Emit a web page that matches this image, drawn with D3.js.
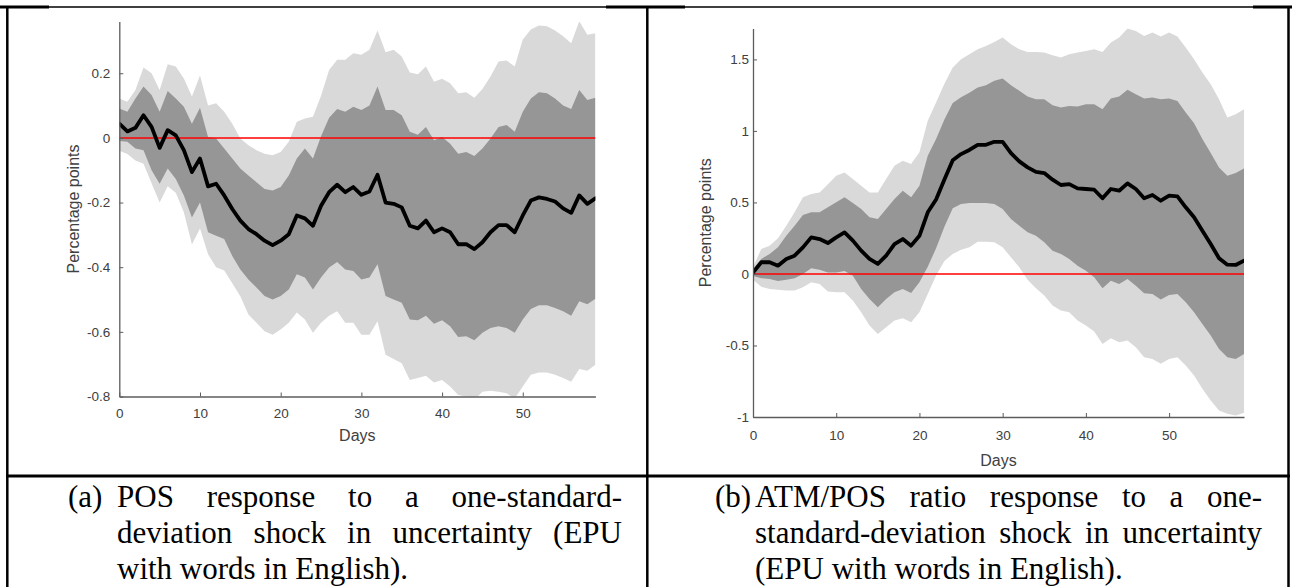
<!DOCTYPE html>
<html>
<head>
<meta charset="utf-8">
<script src="https://cdn.jsdelivr.net/npm/d3@7"></script>
<style>
  html, body { margin: 0; padding: 0; background: #fff; }
  svg { display: block; }
</style>
</head>
<body>
<svg id="chart" width="1292" height="587"></svg>
<script>
// ---------------- DATA ----------------
const days = [0,1,2,3,4,5,6,7,8,9,10,11,12,13,14,15,16,17,18,19,20,21,22,23,24,25,26,27,28,29,
  30,31,32,33,34,35,36,37,38,39,40,41,42,43,44,45,46,47,48,49,50,51,52,53,54,55,56,57,58,59];
const xTicks = [0, 10, 20, 30, 40, 50];

// Panel (a): POS response
const posYTicks = [-0.8, -0.6, -0.4, -0.2, 0, 0.2];
const posMedian = [0.044,0.02,0.031,0.07,0.034,-0.031,0.024,0.008,-0.038,-0.106,
  -0.064,-0.15,-0.142,-0.178,-0.22,-0.256,-0.282,-0.298,-0.318,-0.332,
  -0.318,-0.298,-0.24,-0.249,-0.272,-0.21,-0.168,-0.145,-0.168,-0.152,
  -0.176,-0.166,-0.114,-0.2,-0.204,-0.215,-0.272,-0.28,-0.256,-0.292,
  -0.28,-0.292,-0.329,-0.329,-0.344,-0.323,-0.292,-0.27,-0.27,-0.292,
  -0.24,-0.194,-0.184,-0.189,-0.197,-0.218,-0.232,-0.178,-0.204,-0.187];
const posInnerUpper = [0.091,0.081,0.122,0.159,0.133,0.081,0.145,0.122,0.096,0.044,
  0.093,0.003,-0.002,-0.033,-0.064,-0.095,-0.116,-0.137,-0.158,-0.163,
  -0.152,-0.116,-0.064,-0.033,-0.064,0.005,0.062,0.089,0.081,0.096,
  0.086,0.1,0.159,0.086,0.086,0.07,0.019,0.01,0.034,-0.007,
  0.003,-0.018,-0.049,-0.044,-0.056,-0.033,-0.002,0.034,0.04,0.019,
  0.081,0.122,0.141,0.138,0.122,0.1,0.089,0.148,0.117,0.124];
const posInnerLower = [-0.01,-0.012,-0.033,-0.038,-0.1,-0.142,-0.095,-0.127,-0.178,-0.246,
  -0.2,-0.292,-0.303,-0.313,-0.365,-0.407,-0.438,-0.463,-0.489,-0.5,
  -0.489,-0.469,-0.422,-0.432,-0.469,-0.432,-0.401,-0.384,-0.407,-0.412,
  -0.438,-0.432,-0.391,-0.489,-0.5,-0.51,-0.562,-0.564,-0.55,-0.575,
  -0.564,-0.583,-0.616,-0.614,-0.626,-0.603,-0.588,-0.583,-0.588,-0.603,
  -0.562,-0.529,-0.518,-0.518,-0.526,-0.536,-0.55,-0.505,-0.515,-0.498];
const posOuterUpper = [0.122,0.112,0.148,0.218,0.2,0.148,0.228,0.221,0.184,0.128,
  0.193,0.1,0.107,0.081,0.044,-0.002,-0.023,-0.038,-0.049,-0.054,
  -0.044,-0.012,0.05,0.06,0.065,0.13,0.21,0.242,0.242,0.262,
  0.257,0.273,0.332,0.265,0.273,0.252,0.202,0.197,0.221,0.174,
  0.183,0.169,0.138,0.141,0.124,0.151,0.19,0.236,0.239,0.221,
  0.304,0.335,0.348,0.345,0.332,0.314,0.293,0.361,0.319,0.324];
const posOuterLower = [-0.04,-0.05,-0.07,-0.08,-0.14,-0.2,-0.15,-0.17,-0.23,-0.33,
  -0.28,-0.36,-0.4,-0.41,-0.45,-0.49,-0.546,-0.572,-0.598,-0.609,
  -0.593,-0.572,-0.54,-0.562,-0.603,-0.572,-0.55,-0.536,-0.572,-0.572,
  -0.609,-0.609,-0.567,-0.671,-0.684,-0.697,-0.749,-0.743,-0.736,-0.757,
  -0.749,-0.769,-0.795,-0.8,-0.811,-0.785,-0.782,-0.785,-0.79,-0.806,
  -0.769,-0.733,-0.726,-0.726,-0.733,-0.743,-0.754,-0.715,-0.72,-0.702];

// Panel (b): ATM/POS ratio response
const ratioYTicks = [-1, -0.5, 0, 0.5, 1, 1.5];
const ratioMedian = [0.01,0.082,0.082,0.058,0.105,0.128,0.186,0.256,0.244,0.216,
  0.256,0.291,0.233,0.163,0.105,0.07,0.128,0.209,0.244,0.198,
  0.267,0.431,0.52,0.66,0.795,0.838,0.867,0.903,0.903,0.924,
  0.924,0.845,0.787,0.745,0.714,0.705,0.659,0.622,0.628,0.598,
  0.594,0.589,0.529,0.594,0.582,0.633,0.594,0.529,0.552,0.512,
  0.547,0.543,0.466,0.396,0.302,0.209,0.11,0.065,0.063,0.093];
const ratioInnerUpper = [0.035,0.105,0.14,0.186,0.267,0.337,0.412,0.431,0.431,0.466,
  0.501,0.536,0.496,0.454,0.396,0.384,0.454,0.524,0.582,0.536,
  0.617,0.826,0.943,1.08,1.195,1.236,1.266,1.304,1.32,1.35,
  1.366,1.32,1.28,1.241,1.222,1.222,1.18,1.164,1.175,1.17,
  1.187,1.187,1.152,1.227,1.241,1.287,1.257,1.227,1.234,1.222,
  1.227,1.21,1.129,1.054,0.943,0.845,0.745,0.686,0.705,0.738];
const ratioInnerLower = [-0.015,-0.03,-0.035,-0.05,-0.04,-0.03,0.0,0.04,0.03,0.01,
  0.01,0.02,-0.012,-0.105,-0.175,-0.233,-0.175,-0.128,-0.105,-0.133,
  -0.058,0.05,0.18,0.33,0.46,0.489,0.496,0.496,0.496,0.489,
  0.454,0.384,0.337,0.291,0.267,0.221,0.163,0.14,0.105,0.058,
  0.023,-0.023,-0.1,-0.047,-0.07,-0.035,-0.082,-0.135,-0.14,-0.179,
  -0.147,-0.14,-0.198,-0.268,-0.349,-0.431,-0.524,-0.582,-0.594,-0.559];
const ratioOuterUpper = [0.047,0.175,0.198,0.249,0.337,0.431,0.536,0.559,0.57,0.628,
  0.686,0.71,0.663,0.617,0.57,0.57,0.663,0.756,0.791,0.768,
  0.85,1.071,1.199,1.33,1.443,1.501,1.536,1.571,1.594,1.622,
  1.653,1.606,1.571,1.552,1.552,1.548,1.529,1.513,1.536,1.548,
  1.559,1.571,1.552,1.618,1.653,1.716,1.699,1.664,1.688,1.66,
  1.688,1.66,1.583,1.501,1.409,1.327,1.222,1.094,1.117,1.152];
const ratioOuterLower = [-0.04,-0.09,-0.105,-0.11,-0.116,-0.116,-0.093,-0.058,-0.07,-0.123,
  -0.128,-0.128,-0.186,-0.268,-0.361,-0.419,-0.372,-0.326,-0.31,-0.337,
  -0.268,-0.14,-0.01,0.09,0.14,0.17,0.186,0.226,0.226,0.221,
  0.186,0.116,0.047,-0.04,-0.1,-0.15,-0.221,-0.256,-0.268,-0.326,
  -0.361,-0.403,-0.489,-0.449,-0.477,-0.466,-0.512,-0.582,-0.594,-0.628,
  -0.594,-0.582,-0.64,-0.71,-0.803,-0.885,-0.955,-0.978,-0.99,-0.971];

const xLabel = "Days";
const yLabel = "Percentage points";
const captionA = {
  tag: "(a)",
  justified: [["POS", "response", "to", "a", "one-standard-"],
              ["deviation", "shock", "in", "uncertainty", "(EPU"]],
  last: "with words in English)."
};
const captionB = {
  tag: "(b)",
  justified: [["ATM/POS", "ratio", "response", "to", "a", "one-"],
              ["standard-deviation", "shock", "in", "uncertainty"]],
  last: "(EPU with words in English)."
};

// ---------------- DRAW ----------------
const svg = d3.select("#chart");
svg.append("rect").attr("width", 1292).attr("height", 587).attr("fill", "#fff");

const AXIS_COLOR = "#5c5c5c";
const TEXT_COLOR = "#404040";
const LIGHT = "#d9d9d9";
const DARK = "#969696";

function panel(cfg) {
  const g = svg.append("g");
  const x = d3.scaleLinear().domain([0, 59]).range([cfg.x0, cfg.x1]);
  const y = d3.scaleLinear().domain(cfg.yDomain).range([cfg.yBottom, cfg.yTop]);
  const clipId = "clip" + cfg.id;
  svg.append("clipPath").attr("id", clipId).append("rect")
    .attr("x", cfg.x0).attr("y", cfg.yTop)
    .attr("width", cfg.x1 - cfg.x0).attr("height", cfg.yBottom - cfg.yTop);

  const rows = days.map((d, i) => ({
    d, m: cfg.median[i], iu: cfg.innerUp[i], il: cfg.innerLo[i],
    ou: cfg.outerUp[i], ol: cfg.outerLo[i]
  }));
  const plot = g.append("g").attr("clip-path", `url(#${clipId})`);
  const outer = d3.area().x(r => x(r.d)).y0(r => y(r.ol)).y1(r => y(r.ou));
  const inner = d3.area().x(r => x(r.d)).y0(r => y(r.il)).y1(r => y(r.iu));
  plot.append("path").datum(rows).attr("d", outer).attr("fill", LIGHT);
  plot.append("path").datum(rows).attr("d", inner).attr("fill", DARK);
  plot.append("line")
    .attr("x1", x(0)).attr("x2", x(59)).attr("y1", y(0)).attr("y2", y(0))
    .attr("stroke", "#ff0000").attr("stroke-width", 1.5);
  plot.append("path").datum(rows)
    .attr("d", d3.line().x(r => x(r.d)).y(r => y(r.m)))
    .attr("fill", "none").attr("stroke", "#000").attr("stroke-width", 3.8)
    .attr("stroke-linejoin", "round").attr("stroke-linecap", "round");

  // axes
  const ax = g.append("g").attr("transform", `translate(0,${cfg.yBottom})`)
    .call(d3.axisBottom(x).tickValues(xTicks).tickSizeInner(-4).tickSizeOuter(0)
      .tickPadding(cfg.xPad).tickFormat(d3.format("d")));
  const ay = g.append("g").attr("transform", `translate(${cfg.x0},0)`)
    .call(d3.axisLeft(y).tickValues(cfg.yTicks).tickSizeInner(-4).tickSizeOuter(0)
      .tickPadding(cfg.yPad).tickFormat(d => String(d)));
  [ax, ay].forEach(a => {
    a.select(".domain").attr("stroke", AXIS_COLOR).attr("stroke-width", 1.3);
    a.selectAll(".tick line").attr("stroke", AXIS_COLOR).attr("stroke-width", 1);
    a.selectAll(".tick text").attr("fill", TEXT_COLOR)
      .style("font-family", "'Liberation Sans', Arial, sans-serif").style("font-size", "13.5px");
  });
  g.append("text")
    .attr("x", (cfg.x0 + cfg.x1) / 2).attr("y", cfg.xLabelY)
    .attr("text-anchor", "middle").attr("fill", TEXT_COLOR)
    .style("font-family", "'Liberation Sans', Arial, sans-serif").style("font-size", "16px")
    .text(xLabel);
  g.append("text")
    .attr("transform", `translate(${cfg.yLabelX},${(cfg.yTop + cfg.yBottom) / 2}) rotate(-90)`)
    .attr("text-anchor", "middle").attr("dy", "0.36em").attr("fill", TEXT_COLOR)
    .style("font-family", "'Liberation Sans', Arial, sans-serif").style("font-size", "16px")
    .text(yLabel);
}

panel({ id: "A", x0: 119.3, x1: 595.4, yTop: 21.5, yBottom: 396.5, yDomain: [-0.8, 0.36],
  yTicks: posYTicks, median: posMedian, innerUp: posInnerUpper, innerLo: posInnerLower,
  outerUp: posOuterUpper, outerLo: posOuterLower, xPad: 12, yPad: 9,
  xLabelY: 441, yLabelX: 73 });
panel({ id: "B", x0: 753, x1: 1244, yTop: 28.5, yBottom: 417, yDomain: [-1, 1.716],
  yTicks: ratioYTicks, median: ratioMedian, innerUp: ratioInnerUpper, innerLo: ratioInnerLower,
  outerUp: ratioOuterUpper, outerLo: ratioOuterLower, xPad: 13.5, yPad: 4,
  xLabelY: 466, yLabelX: 705 });

// ---------------- TABLE FRAME ----------------
const frame = svg.append("g").attr("stroke", "#000");
frame.append("line").attr("x1", 0).attr("x2", 1292).attr("y1", 7).attr("y2", 7).attr("stroke-width", 1.5);
[[0, 49], [606, 685], [1253, 1292]].forEach(([a, b]) =>
  frame.append("line").attr("x1", a).attr("x2", b).attr("y1", 7).attr("y2", 7).attr("stroke-width", 3));
[7.3, 647.3, 1288.5].forEach(xv =>
  frame.append("line").attr("x1", xv).attr("x2", xv).attr("y1", 6).attr("y2", 587).attr("stroke-width", 2.5));
frame.append("line").attr("x1", 6).attr("x2", 1290).attr("y1", 476).attr("y2", 476).attr("stroke-width", 2.8);

// ---------------- CAPTIONS ----------------
const capFont = "'Liberation Serif', 'Times New Roman', serif";
function caption(cap, tagX, x0, x1, baselines) {
  const g = svg.append("g").style("font-family", capFont).style("font-size", "31px").attr("fill", "#000");
  g.append("text").attr("x", tagX).attr("y", baselines[0]).text(cap.tag);
  cap.justified.forEach((words, li) => {
    const texts = words.map(w => g.append("text").attr("y", baselines[li]).text(w));
    const widths = texts.map(t => t.node().getComputedTextLength());
    const gap = (x1 - x0 - d3.sum(widths)) / (words.length - 1);
    let xx = x0;
    texts.forEach((t, i) => { t.attr("x", xx); xx += widths[i] + gap; });
  });
  g.append("text").attr("x", x0).attr("y", baselines[2]).text(cap.last);
}
caption(captionA, 68, 117, 622, [507, 543, 579]);
caption(captionB, 715, 755, 1262, [507, 543, 579]);
</script>
</body>
</html>
